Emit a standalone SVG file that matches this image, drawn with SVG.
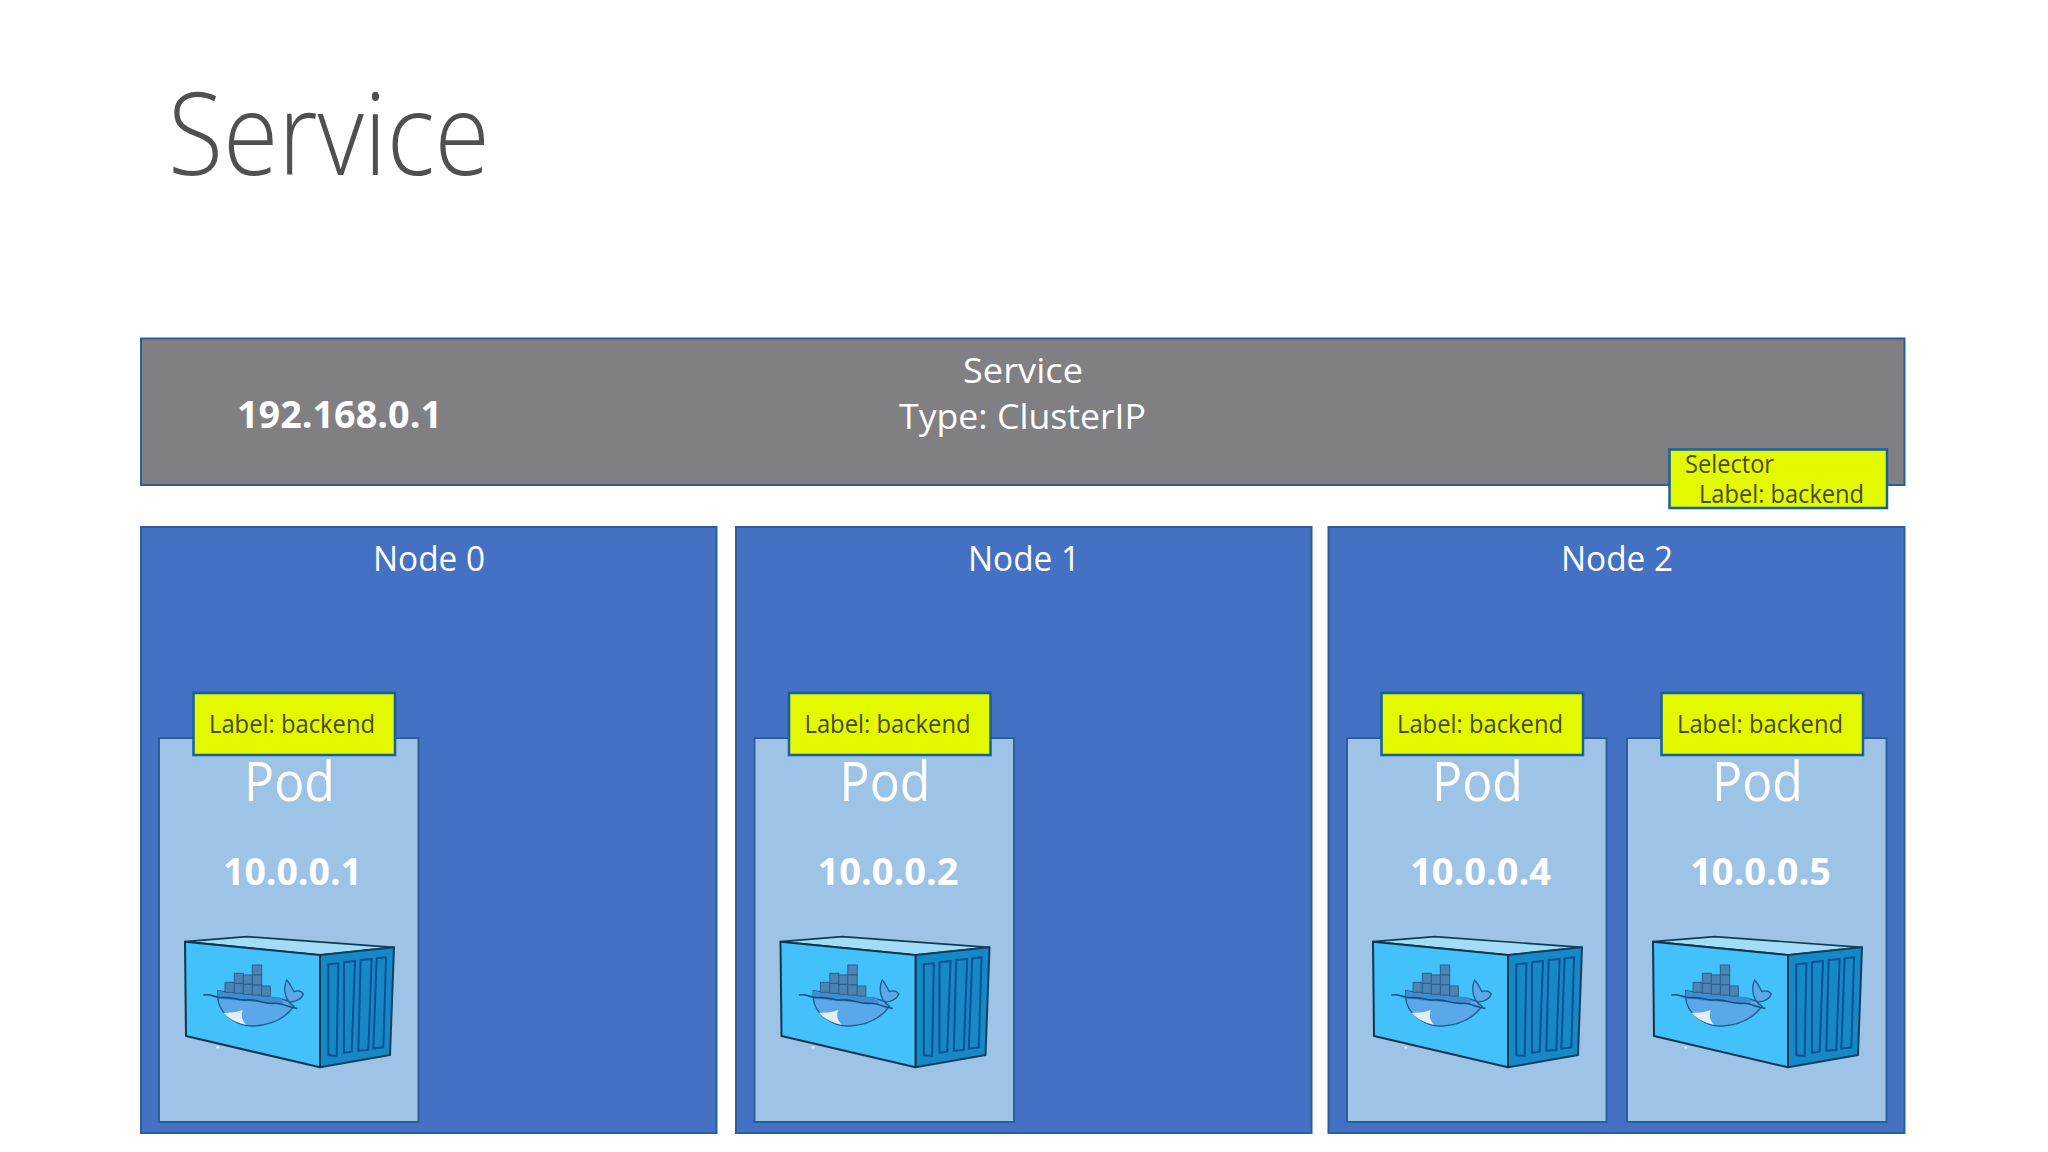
<svg xmlns="http://www.w3.org/2000/svg" width="2048" height="1152" viewBox="0 0 2048 1152">
<style>
text{font-family:"Open Sans","Noto Sans","Liberation Sans",sans-serif}
.w{fill:#fff}
.c{text-anchor:middle}
.box{stroke:#2a5f9a;stroke-width:2}
.node{fill:#4571c4}
.pod{fill:#9dc3e6}
.lab{fill:#e2f900;stroke:#17609a;stroke-width:2.5}
.lt{fill:#4a4a22;font-size:26px}
.pt{font-size:54px;font-weight:400}
.ip{font-size:37px;font-weight:700}
.nt{font-size:34px}
.crate{fill:#4d84b6;stroke:#2d5f8f;stroke-width:3}
</style>
<defs>
<g id="docker" transform="translate(170 930) scale(.33333)">
<polygon points="45,35 230,20 672,52 450,75" fill="#a4dcf7" stroke="#123a55" stroke-width="5" stroke-linejoin="round"/>
<polygon points="450,75 672,52 660,375 450,412" fill="#1589c6" stroke="#0f3f5f" stroke-width="6" stroke-linejoin="round"/>
<polygon points="45,35 450,75 450,412 48,318" fill="#43c1fb" stroke="#0f3550" stroke-width="6" stroke-linejoin="round"/>
<g fill="none" stroke="#0b4f96" stroke-width="6">
<polygon points="475,103 505,100 500,378 475,375"/>
<polygon points="522,97 555,93 545,365 522,368"/>
<polygon points="572,90 605,87 595,360 565,362"/>
<polygon points="620,85 648,82 640,352 610,356"/>
</g>
<path d="M143,182 L143,205 C150,260 210,290 250,288 C310,285 350,260 372,228 C345,215 338,175 350,150 C360,160 364,172 372,185 C385,180 395,185 400,192 C395,208 375,215 362,216 L330,205 L143,182Z" fill="#5aa8ea" stroke="#1c5f98" stroke-width="4"/>
<path d="M143,184 L335,204 L340,222 C280,215 200,215 143,205Z" fill="#3f8ed2"/>
<path d="M100,195 C125,190 135,205 160,203 C190,200 200,212 230,210 C265,208 280,222 310,220 C335,218 355,232 382,235" fill="none" stroke="#174f85" stroke-width="5"/>
<path d="M160,248 C185,250 205,245 218,240 C212,255 215,270 228,284 C198,278 175,266 160,248Z" fill="#e4eef5"/>
<g class="crate">
<rect x="165" y="157" width="28" height="30"/><rect x="193" y="130" width="27" height="30"/><rect x="193" y="160" width="27" height="30"/>
<rect x="220" y="135" width="27" height="28"/><rect x="220" y="163" width="27" height="30"/><rect x="247" y="105" width="28" height="30"/>
<rect x="247" y="135" width="28" height="30"/><rect x="247" y="165" width="28" height="30"/><rect x="275" y="168" width="26" height="30"/>
</g>
<circle cx="143" cy="352" r="4" fill="#d8eefa"/>
</g>
<g id="pod">
<rect class="box pod" x="159" y="738" width="259.500" height="384"/>
<text class="w c pt" x="289.500" y="801" textLength="91" lengthAdjust="spacingAndGlyphs">Pod</text>
<use href="#docker"/>
<rect class="lab" x="193.500" y="693" width="201.500" height="62"/>
<text class="lt" x="209" y="733" textLength="166" lengthAdjust="spacingAndGlyphs">Label: backend</text>
</g>
</defs>
<rect width="2048" height="1152" fill="#fff"/>
<text id="title" x="168" y="175" font-size="114" font-weight="300" fill="#505050" textLength="322" lengthAdjust="spacingAndGlyphs">Service</text>
<g id="service">
<rect class="box" x="141" y="338.500" width="1763.500" height="146.500" fill="#808082"/>
<text class="w c nt" x="1023" y="383" textLength="120" lengthAdjust="spacingAndGlyphs">Service</text>
<text class="w c nt" x="1022.500" y="429" textLength="247" lengthAdjust="spacingAndGlyphs">Type: ClusterIP</text>
<text class="w" x="237" y="428" font-size="38" font-weight="700" textLength="205" lengthAdjust="spacingAndGlyphs">192.168.0.1</text>
</g>
<g id="selector">
<rect class="lab" x="1669.500" y="449.500" width="217.500" height="58.500"/>
<text class="lt" x="1685" y="473" textLength="89" lengthAdjust="spacingAndGlyphs">Selector</text>
<text class="lt" x="1699" y="503" textLength="165" lengthAdjust="spacingAndGlyphs">Label: backend</text>
</g>
<g id="node0">
<rect class="box node" x="141" y="527" width="575.500" height="606"/>
<text class="w c nt" x="429" y="571" textLength="112" lengthAdjust="spacingAndGlyphs">Node 0</text>
</g>
<g id="node1">
<rect class="box node" x="736" y="527" width="575.500" height="606"/>
<text class="w c nt" x="1024" y="571" textLength="112" lengthAdjust="spacingAndGlyphs">Node 1</text>
</g>
<g id="node2">
<rect class="box node" x="1328.500" y="527" width="576" height="606"/>
<text class="w c nt" x="1617" y="571" textLength="112" lengthAdjust="spacingAndGlyphs">Node 2</text>
</g>
<g id="pod0"><use href="#pod"/><text class="w c ip" x="292.500" y="885" textLength="139" lengthAdjust="spacingAndGlyphs">10.0.0.1</text></g>
<g id="pod1" transform="translate(595.500 0)"><use href="#pod"/><text class="w c ip" x="292.500" y="885" textLength="141" lengthAdjust="spacingAndGlyphs">10.0.0.2</text></g>
<g id="pod2" transform="translate(1188 0)"><use href="#pod"/><text class="w c ip" x="292.500" y="885" textLength="141" lengthAdjust="spacingAndGlyphs">10.0.0.4</text></g>
<g id="pod3" transform="translate(1468 0)"><use href="#pod"/><text class="w c ip" x="292.500" y="885" textLength="141" lengthAdjust="spacingAndGlyphs">10.0.0.5</text></g>
<g id="connectors"/>
</svg>
